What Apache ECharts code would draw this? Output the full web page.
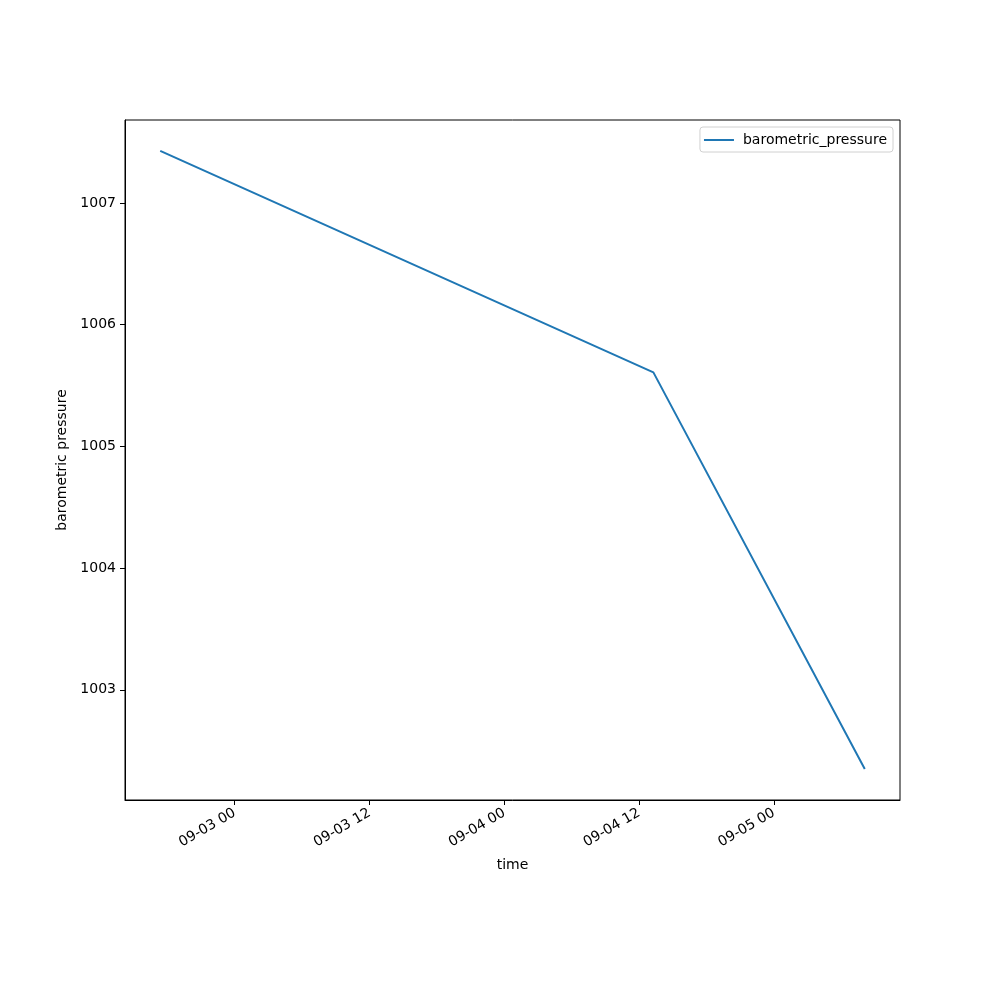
<!DOCTYPE html>
<html>
<head>
<meta charset="utf-8">
<script src="https://cdn.jsdelivr.net/npm/echarts@6/dist/echarts.min.js"></script>
<style>html,body{margin:0;padding:0;background:#fff}#c{width:1000px;height:1000px}</style>
</head>
<body>
<div id="c"></div>
<script>
const times = ['2023-09-02 17:22', '2023-09-04 13:16', '2023-09-05 08:05'];
const pressure = [1007.427, 1005.608, 1002.349];
const xTickLabels = ['2023-09-03 00:00', '2023-09-03 12:00', '2023-09-04 00:00', '2023-09-04 12:00', '2023-09-05 00:00'];
const yTickValues = [1003, 1004, 1005, 1006, 1007];
const seriesName = 'barometric_pressure';

function parseT(s) {
  const m = s.match(/(\d+)-(\d+)-(\d+) (\d+):(\d+)/);
  return new Date(+m[1], +m[2] - 1, +m[3], +m[4], +m[5]).getTime();
}
function fmtT(v) {
  const d = new Date(v);
  const p = n => String(n).padStart(2, '0');
  return p(d.getMonth() + 1) + '-' + p(d.getDate()) + ' ' + p(d.getHours());
}
const tx = times.map(parseT);
const xTicks = xTickLabels.map(parseT);
const xSpan = tx[tx.length - 1] - tx[0];
const xMin = tx[0] - 0.05 * xSpan, xMax = tx[tx.length - 1] + 0.05 * xSpan;
const yLo = Math.min(...pressure), yHi = Math.max(...pressure);
const ySpan = yHi - yLo;
const yMin = yLo - 0.05 * ySpan, yMax = yHi + 0.05 * ySpan;

const font = 'DejaVu Sans';
const chart = echarts.init(document.getElementById('c'), null, {renderer: 'canvas'});
chart.setOption({
  animation: false,
  textStyle: {fontFamily: font},
  grid: {left: 125, right: 100, top: 120, bottom: 200, show: true, borderColor: '#000', borderWidth: 1, backgroundColor: 'transparent'},
  legend: {
    right: 107, top: 127, orient: 'vertical',
    backgroundColor: '#fff', borderColor: '#d0d0d0', borderWidth: 1, borderRadius: 3,
    padding: [6, 6, 5, 4], itemWidth: 30, itemHeight: 12, itemGap: 8,
    textStyle: {fontFamily: font, fontSize: 14, color: '#000', padding: [0, 0, 0, 4]},
    data: [{name: seriesName, icon: 'path://M0,5 L30,5 L30,7 L0,7 Z'}]
  },
  xAxis: {
    type: 'value', min: xMin, max: xMax,
    name: 'time', nameLocation: 'middle', nameGap: 58,
    nameTextStyle: {fontFamily: font, fontSize: 14, color: '#000'},
    axisLine: {show: true, lineStyle: {color: '#000', width: 1}},
    axisTick: {show: true, length: 5, lineStyle: {color: '#000'}, customValues: xTicks},
    splitLine: {show: false},
    axisLabel: {
      customValues: xTicks, rotate: 30, fontSize: 14, color: '#000', fontFamily: font, margin: 12,
      formatter: v => fmtT(v)
    }
  },
  yAxis: {
    type: 'value', min: yMin, max: yMax,
    name: 'barometric pressure', nameLocation: 'middle', nameGap: 52, nameRotate: 90,
    nameTextStyle: {fontFamily: font, fontSize: 14, color: '#000'},
    axisLine: {show: true, lineStyle: {color: '#000', width: 1}},
    axisTick: {show: true, length: 5, lineStyle: {color: '#000'}, customValues: yTickValues},
    splitLine: {show: false},
    axisLabel: {customValues: yTickValues, fontSize: 14, color: '#000', fontFamily: font, margin: 9,
      formatter: v => String(Math.round(v))}
  },
  series: [{
    name: seriesName, type: 'line', symbol: 'none',
    lineStyle: {color: '#1f77b4', width: 2}, itemStyle: {color: '#1f77b4'},
    data: tx.map((t, i) => [t, pressure[i]])
  }]
});
</script>
</body>
</html>
